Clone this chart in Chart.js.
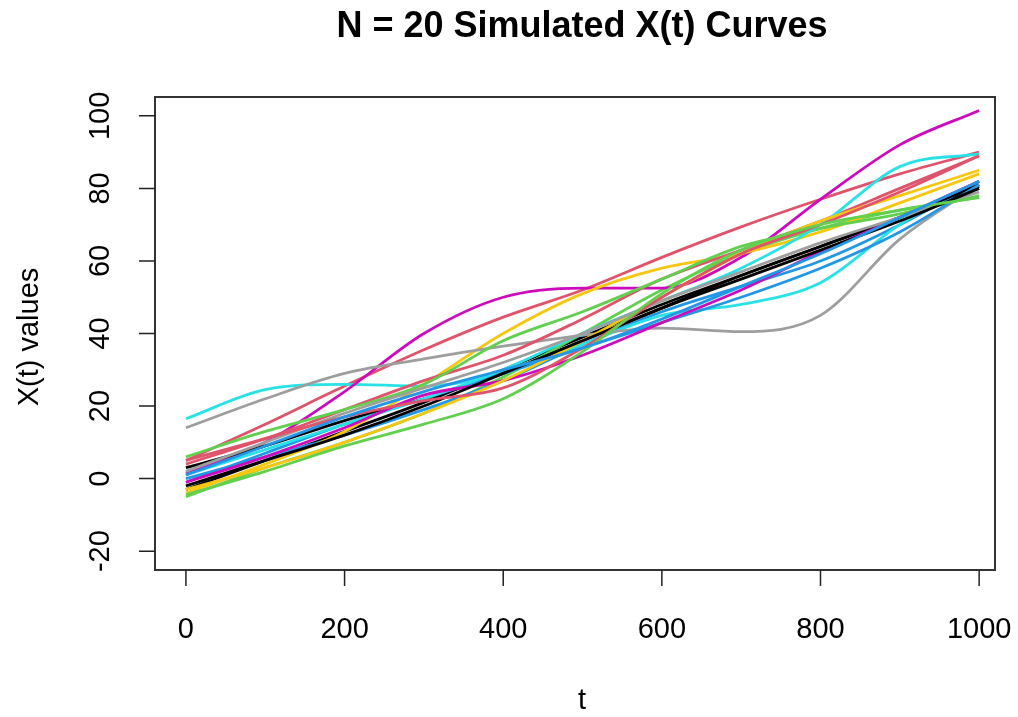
<!DOCTYPE html>
<html lang="en">
<head>
  <meta charset="UTF-8">
  <title>N = 20 Simulated X(t) Curves</title>
  <style>
    html, body { margin: 0; padding: 0; background: #fff; }
    #wrap { position: relative; width: 1018px; height: 717px; }
  </style>
</head>
<body>
  <div id="wrap"><canvas id="chart" width="1018" height="717"></canvas></div>

  <script src="https://cdn.jsdelivr.net/npm/chart.js"></script>
  <script>
    // sample times (t) and axis ticks
    const tPoints = [0, 100, 200, 300, 400, 500, 600, 700, 800, 900, 1000];
    const xTicks = [0, 200, 400, 600, 800, 1000];
    const yTicks = [-20, 0, 20, 40, 60, 80, 100];

    // R default palette, recycled over the 20 curves
    const curveColors = ['#000000', '#DF536B', '#61D04F', '#2297E6', '#28E2E5', '#CD0BBC', '#F5C710', '#9E9E9E'];

    // X(t) values, one array per curve
    const curve01 = [-3, 5, 13, 21, 30, 39, 48, 56, 64, 72, 80.5];
    const curve02 = [5, 15, 25.5, 35.5, 44.5, 52, 61, 69.4, 77, 84, 90];
    const curve03 = [-5, 3, 10, 18, 28, 40, 52, 62, 69, 74, 77.5];
    const curve04 = [0, 6, 12, 19, 27, 37, 46, 53, 60, 70, 82];
    const curve05 = [16.5, 24.5, 26, 25.5, 29, 37, 45, 48, 54, 70, 82];
    const curve06 = [1.5, 10, 24, 40, 50, 52.5, 52.5, 61, 77, 92, 101.5];
    const curve07 = [-4, 4, 13, 26, 40, 51, 58, 62, 68, 76, 84];
    const curve08 = [14, 22, 29, 33, 36.5, 39.5, 41.5, 40.5, 45, 66, 81];
    const curve09 = [3, 9, 16, 22, 29, 38, 47, 56, 64, 72, 81];
    const curve10 = [4, 11, 19, 27, 34, 44, 55, 63, 71, 80, 89];
    const curve11 = [6, 13, 19, 26, 38, 46, 55, 64, 69, 73, 78];
    const curve12 = [-1, 7, 15, 22, 29, 36, 43, 50, 58, 68, 81];
    const curve13 = [1, 8, 15, 22, 30, 40, 49, 58, 70, 86, 89.5];
    const curve14 = [-1, 6, 14, 23, 27, 34, 43, 52, 62.5, 72, 82];
    const curve15 = [-3, 3, 10, 18, 27, 38, 50, 62, 71, 78, 85];
    const curve16 = [2, 10, 18, 25, 32, 40, 49, 57, 65, 72, 79];
    const curve17 = [-2, 5, 12, 20, 29, 38, 47, 55, 63, 71, 80];
    const curve18 = [5, 11, 17, 21.5, 25, 36, 50, 62, 70, 79, 89];
    const curve19 = [-4.5, 2, 9, 15, 22, 35, 51, 63, 70, 74, 77.5];
    const curve20 = [1, 9, 17, 24, 30, 36, 44, 53, 62, 72, 82];

    const curves = [curve01, curve02, curve03, curve04, curve05, curve06, curve07, curve08, curve09, curve10,
                    curve11, curve12, curve13, curve14, curve15, curve16, curve17, curve18, curve19, curve20];

    const FONT = '"Liberation Sans", Arial, Helvetica, sans-serif';

    function drawText(ctx, text, x, y, font, angle) {
      ctx.save();
      ctx.translate(x, y);
      if (angle) ctx.rotate(angle);
      ctx.font = font;
      ctx.fillStyle = '#000';
      ctx.textAlign = 'center';
      ctx.textBaseline = 'middle';
      ctx.fillText(text, 0, 0);
      ctx.restore();
    }

    // R-style frame, axes, labels and title
    const baseAxes = {
      id: 'baseAxes',
      afterDraw(chart) {
        const { ctx, chartArea: a, scales: { x, y } } = chart;
        ctx.save();
        ctx.strokeStyle = '#333';
        ctx.lineWidth = 2;
        ctx.strokeRect(a.left, a.top, a.right - a.left, a.bottom - a.top);

        ctx.strokeStyle = '#222';
        ctx.lineWidth = 1.5;
        ctx.beginPath();
        xTicks.forEach(v => {
          const px = x.getPixelForValue(v);
          ctx.moveTo(px, a.bottom);
          ctx.lineTo(px, a.bottom + 16);
        });
        yTicks.forEach(v => {
          const py = y.getPixelForValue(v);
          ctx.moveTo(a.left, py);
          ctx.lineTo(a.left - 16, py);
        });
        ctx.stroke();
        ctx.restore();

        const tickFont = '29px ' + FONT;
        xTicks.forEach(v => drawText(ctx, String(v), x.getPixelForValue(v), 630, tickFont));
        yTicks.forEach(v => drawText(ctx, String(v), 101, y.getPixelForValue(v), tickFont, -Math.PI / 2));

        drawText(ctx, 'N = 20 Simulated X(t) Curves', 582, 27, 'bold 36px ' + FONT);
        drawText(ctx, 't', 582, 701, tickFont);
        drawText(ctx, 'X(t) values', 30, 337, tickFont, -Math.PI / 2);
      }
    };

    const datasets = curves.map((vals, i) => ({
      label: 'X' + (i + 1),
      data: vals.map((v, j) => ({ x: tPoints[j], y: v })),
      borderColor: curveColors[i % curveColors.length],
      borderWidth: 2.8,
      pointRadius: 0,
      fill: false,
      cubicInterpolationMode: 'monotone',
      order: curves.length - i
    }));

    new Chart(document.getElementById('chart'), {
      type: 'line',
      data: { datasets },
      options: {
        responsive: false,
        animation: false,
        layout: { padding: { left: 155, top: 97, right: 23, bottom: 147 } },
        plugins: { legend: { display: false }, tooltip: { enabled: false } },
        scales: {
          x: { type: 'linear', min: -39, max: 1020, display: false },
          y: { type: 'linear', min: -25.2, max: 105.2, display: false }
        }
      },
      plugins: [baseAxes]
    });
  </script>
</body>
</html>
